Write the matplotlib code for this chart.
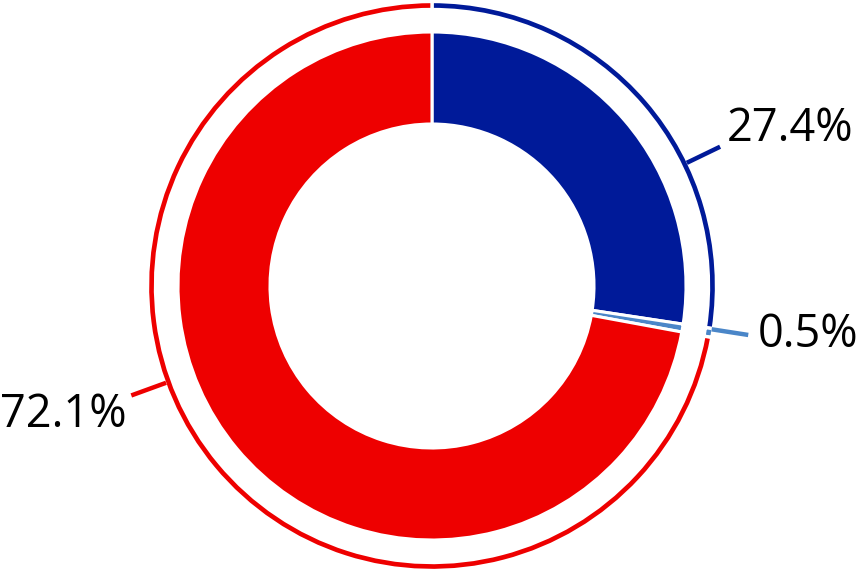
import numpy as np
import matplotlib.pyplot as plt

labels = ['27.4%', '0.5%', '72.1%']
values = [27.4, 0.5, 72.1]
colors = ['#001a99', '#4a86c8', '#ee0000']

# where the leader lines sit (degrees, counter-clockwise from 3 o'clock)
label_angles = [25.8, -8.8, 200.0]

W, H = 862, 574
cx, cy = 432, H - 286

fig = plt.figure(figsize=(W / 100, H / 100), dpi=100)
ax = fig.add_axes([0, 0, 1, 1])

# main donut
ax.pie(values, colors=colors, startangle=90, counterclock=False,
       radius=254, center=(cx, cy),
       wedgeprops=dict(width=92, edgecolor='white', linewidth=2.2))

# thin outer ring
ax.pie(values, colors=colors, startangle=90, counterclock=False,
       radius=284.5, center=(cx, cy),
       wedgeprops=dict(width=8, edgecolor='white', linewidth=2.4))

ax.set_xlim(0, W)
ax.set_ylim(0, H)
ax.set_aspect('equal')
ax.axis('off')

offsets = [(7, 18, 'left'), (10, 0, 'left'), (-5, -20, 'right')]
for lab, ang, col, (dx, dy, ha) in zip(labels, label_angles, colors, offsets):
    a = np.deg2rad(ang)
    r0, r1 = 283, 320
    x0, y0 = cx + r0 * np.cos(a), cy + r0 * np.sin(a)
    x1, y1 = cx + r1 * np.cos(a), cy + r1 * np.sin(a)
    ax.plot([x0, x1], [y0, y1], color=col, lw=3.2, solid_capstyle='butt')
    ax.text(x1 + dx, y1 + dy, lab, ha=ha, va='center', fontsize=32.5,
            family='Open Sans', color='black')

fig.savefig('out.png', dpi=100)
